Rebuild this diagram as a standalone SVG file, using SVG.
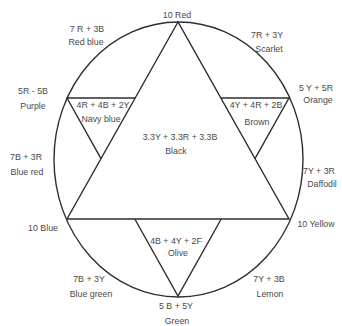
<svg xmlns="http://www.w3.org/2000/svg" width="342" height="326" viewBox="0 0 342 326">
<style>
.ln{fill:none;stroke:#2e2e2e;stroke-width:1.4;stroke-linejoin:miter}
text{font-family:"Liberation Sans",Arial,sans-serif;font-size:8.8px;fill:#4a4a4a;text-anchor:middle}
</style>
<rect width="342" height="326" fill="#ffffff"/>
<g id="connectors">
<ellipse class="ln" cx="178.5" cy="159.5" rx="124.5" ry="137.5"/>
<polygon class="ln" points="178,22 67,219 289,219"/>
<polyline class="ln" points="135.2,98 67,98 101,158.7"/>
<polyline class="ln" points="220.8,98 289,98 255,158.7"/>
<polyline class="ln" points="134.8,219 178,296 221.2,219"/>
</g>
<g id="red"><text x="177" y="18">10 Red</text></g>
<g id="redblue"><text x="87" y="32">7 R + 3B</text><text x="86" y="45">Red blue</text></g>
<g id="scarlet"><text x="267" y="38">7R + 3Y</text><text x="269" y="52">Scarlet</text></g>
<g id="purple"><text x="33" y="94">5R - 5B</text><text x="33" y="109">Purple</text></g>
<g id="navy"><text x="103" y="108">4R + 4B + 2Y</text><text x="101" y="122">Navy blue</text></g>
<g id="brown"><text x="256" y="108">4Y + 4R + 2B</text><text x="257" y="125">Brown</text></g>
<g id="orange"><text x="316" y="91">5 Y + 5R</text><text x="318" y="103">Orange</text></g>
<g id="black"><text x="180" y="140">3.3Y + 3.3R + 3.3B</text><text x="176" y="154">Black</text></g>
<g id="bluered"><text x="26" y="160">7B + 3R</text><text x="27" y="175">Blue red</text></g>
<g id="daffodil"><text x="319" y="174">7Y + 3R</text><text x="322" y="187">Daffodil</text></g>
<g id="blue"><text x="43" y="231">10 Blue</text></g>
<g id="yellow"><text x="316" y="227">10 Yellow</text></g>
<g id="olive"><text x="176" y="244">4B + 4Y + 2F</text><text x="178" y="256">Olive</text></g>
<g id="bluegreen"><text x="89" y="282">7B + 3Y</text><text x="91" y="297">Blue green</text></g>
<g id="lemon"><text x="269" y="282">7Y + 3B</text><text x="270" y="297">Lemon</text></g>
<g id="green"><text x="176" y="309">5 B + 5Y</text><text x="177" y="324">Green</text></g>
</svg>
